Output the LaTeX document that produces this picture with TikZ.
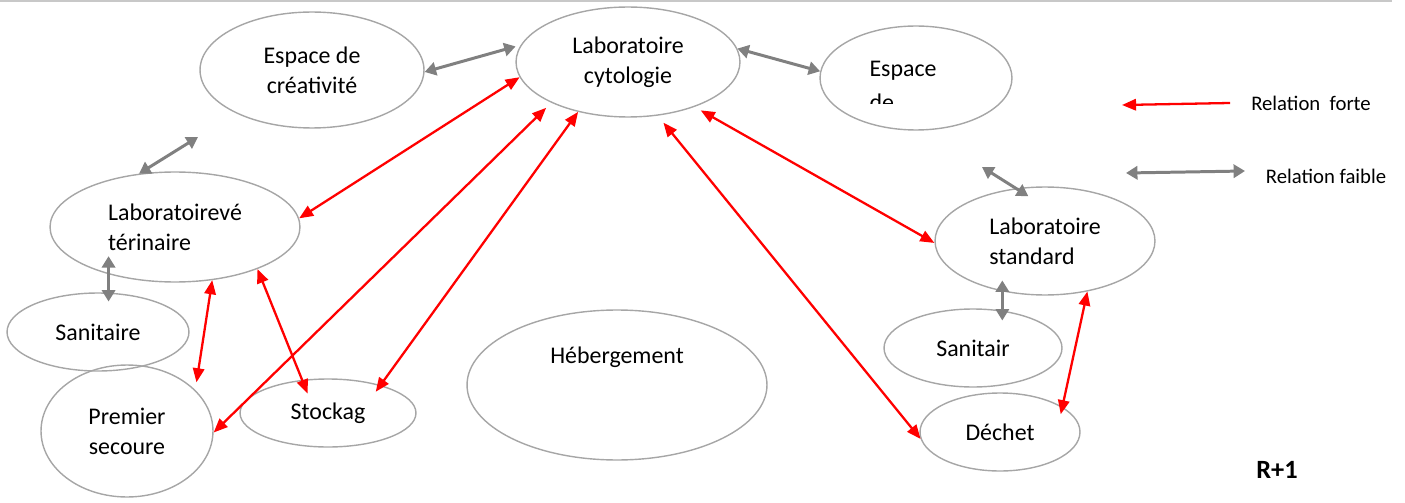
\documentclass[tikz,border=0pt]{standalone}
\usepackage{fontspec}
\setmainfont{Carlito}
\usetikzlibrary{arrows.meta,shapes.geometric}
\definecolor{ellgrey}{HTML}{A6A6A6}
\definecolor{arrgrey}{HTML}{808080}
\definecolor{topgrey}{HTML}{C8C8C8}

\begin{document}
\begin{tikzpicture}[x=0.02cm,y=-0.02cm,
  zone/.style={ellipse,draw=ellgrey,line width=0.8pt,inner sep=0pt,align=center,font=\fontsize{13.6}{17}\selectfont},
  forte/.style={<->,>={Triangle[length=8pt,width=6.5pt]},draw=red,line width=1.3pt},
  faible/.style={<->,>={Triangle[length=6.5pt,width=7.5pt]},draw=arrgrey,line width=1.7pt},
  legende/.style={font=\fontsize{11.8}{14}\selectfont}]
\useasboundingbox (0,0) rectangle (1405,503);
\draw[topgrey,line width=1pt] (0,1) -- (1392,1);
\node[zone,minimum width=4.48cm,minimum height=2.32cm] (crea) at (312,70) {Espace de\\créativité};
\node[zone,minimum width=4.48cm,minimum height=2.2cm] (cyto) at (628,62) {Laboratoire\\cytologie};
\node[zone,minimum width=3.84cm,minimum height=2.08cm] (espace) at (916,78) {};
\begin{scope}
\clip (820,20) rectangle (1015,103.3);
\node[align=left,font=\fontsize{13.6}{19.4}\selectfont] (espacetxt) at (903,86) {Espace\\de};
\end{scope}
\node[zone,align=left,minimum width=5cm,minimum height=2.2cm] (vet) at (175,227) {Laboratoirevé\\térinaire};
\node[zone,minimum width=3.64cm,minimum height=1.56cm] (sanL) at (98,332) {Sanitaire};
\node[zone,minimum width=3.44cm,minimum height=2.64cm] (premier) at (127,431) {Premier\\secoure};
\node[zone,minimum width=3.52cm,minimum height=1.36cm] (stock) at (328,413) {Stockag};
\node[zone,minimum width=6cm,minimum height=3cm] (heberg) at (617,385) {};
\node[font=\fontsize{13.6}{17}\selectfont] (hebergtxt) at (617,357) {Hébergement};
\node[zone,align=left,minimum width=4.4cm,minimum height=2.16cm] (std) at (1045,241) {Laboratoire\\standard};
\node[zone,minimum width=3.56cm,minimum height=1.56cm] (sanR) at (973,348) {Sanitair};
\node[zone,minimum width=3.2cm,minimum height=1.56cm] (dechet) at (1000,432) {Déchet};
\coordinate (veth) at (198,137);
\coordinate (stdh) at (982,167);
% relations faibles
\draw[faible,shorten >=3pt] (crea.-1) -- (cyto.171);
\draw[faible] (cyto.7.6) -- (espace.176);
\draw[faible] (vet.124) -- (veth);
\draw[faible,shorten <=-9.9pt,shorten >=-5.1pt] (sanL.75.6 |- vet.214.7) -- (sanL.75.6);
\draw[faible,shorten <=-8.4pt] (std.119.4) -- (stdh);
\draw[faible,shorten <=-6pt,shorten >=-5.7pt] (sanR.52.9 |- std.228.4) -- (sanR.52.9);
% relations fortes
\draw[forte] (cyto.188.6) -- (vet.4);
\draw[forte,shorten <=4.1pt] (cyto.208.7) -- (premier.-1);
\draw[forte,shorten >=-4.7pt] (cyto.225) -- (stock.28.6);
\draw[forte,shorten <=5.1pt] (cyto.299) -- (dechet.185);
\draw[forte,shorten <=4pt] (cyto.326) -- (std.181);
\draw[forte,shorten >=4.4pt] (vet.-55) -- (premier.31.7);
\draw[forte,shorten >=-8.4pt] (vet.-27) -- (stock.128.3);
\draw[forte,shorten >=-4.3pt] (std.-50) -- (dechet.22.7);
% legende
\coordinate (fa) at (1230,103);
\coordinate (fb) at (1122,105);
\coordinate (fc) at (1126,173);
\coordinate (fd) at (1245,171);
\draw[forte,->] (fa) -- (fb);
\draw[faible] (fc) -- (fd);
\node[legende] (fortetxt) at (1311,103) {Relation~ forte};
\node[legende] (faibletxt) at (1326,176) {Relation faible};
\node[font=\bfseries\fontsize{15}{18}\selectfont] (niveau) at (1277,470) {R+1};
\end{tikzpicture}
\end{document}
